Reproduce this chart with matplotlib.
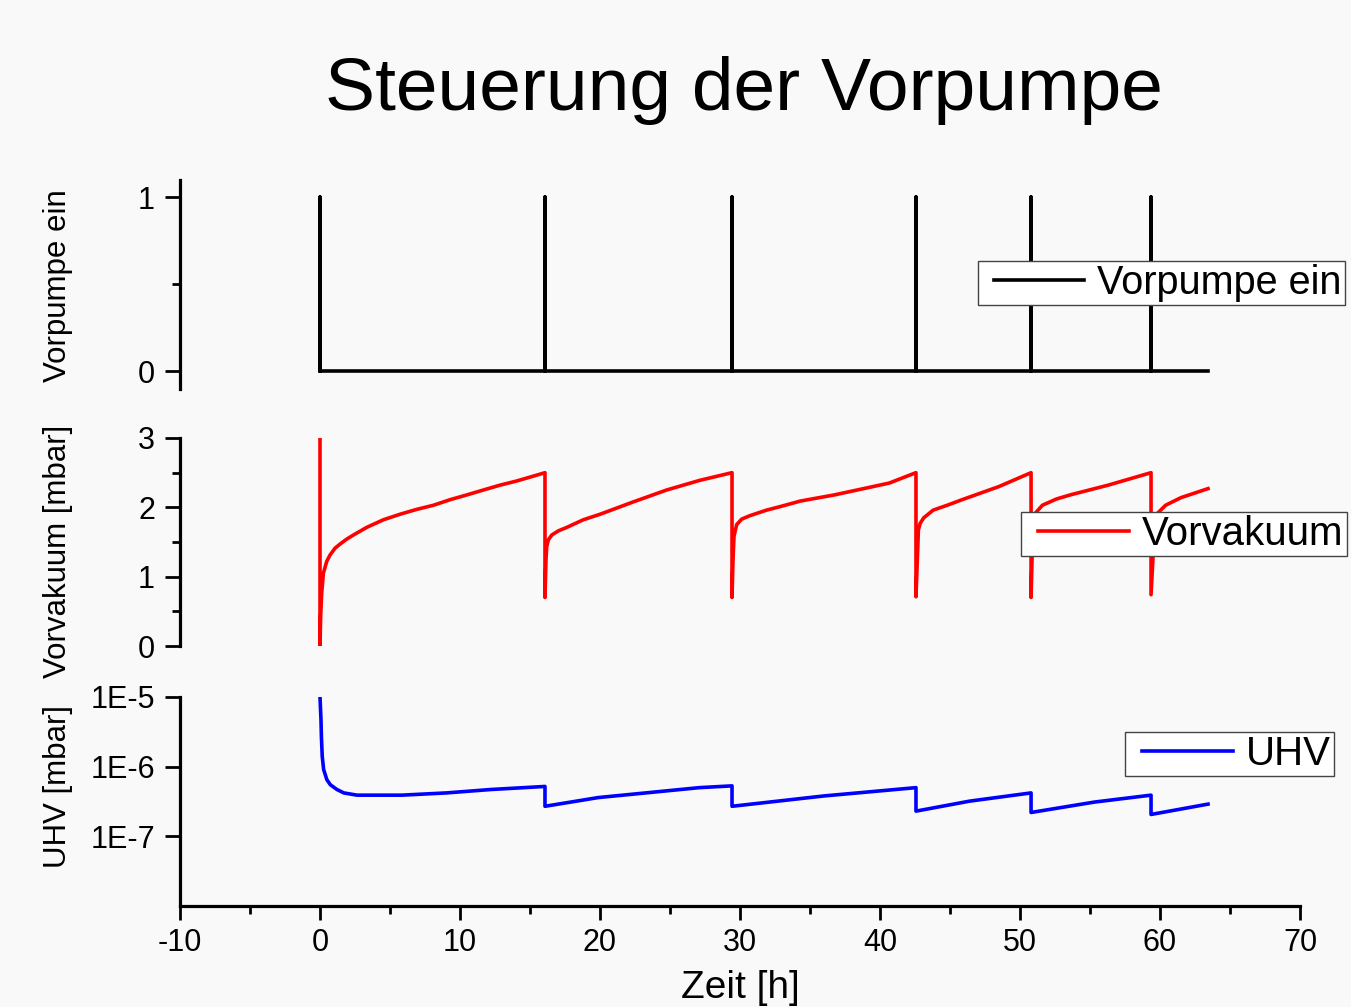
import numpy as np
import matplotlib
matplotlib.use("Agg")
import matplotlib.pyplot as plt
from matplotlib.legend_handler import HandlerLine2D
from matplotlib.lines import Line2D
from matplotlib.ticker import LogLocator, MultipleLocator, FixedLocator, NullFormatter

plt.rcParams['font.family'] = ['Liberation Sans', 'DejaVu Sans']
plt.rcParams['axes.unicode_minus'] = False

# switching times of the fore pump [h]
pump_on = [0.0, 16.07, 29.43, 42.57, 50.79, 59.36]
t_end = 63.43

# fore vacuum pressure [mbar]
vv_t = [0.0, 0.0, 0.05, 0.12, 0.24, 0.48, 0.71, 1.07, 1.43, 1.9, 2.38, 3.33, 4.52, 5.71, 6.9,
        8.1, 9.29, 10.5, 11.67, 12.86, 14.05, 15.24, 16.07,
        16.07, 16.14, 16.19, 16.31, 16.55, 17.02, 17.62, 18.8, 20.0, 22.4, 24.76, 27.14, 29.43,
        29.43, 29.5, 29.57, 29.76, 30.12, 30.71, 31.9, 32.86, 34.3, 36.76, 40.66, 42.57,
        42.57, 42.7, 42.74, 42.87, 43.13, 43.8, 44.8, 45.86, 48.5, 50.79,
        50.79, 50.93, 51.07, 51.6, 52.6, 53.6, 56.3, 59.36,
        59.36, 59.64, 59.8, 60.4, 61.5, 63.43]
vv_p = [3.0, 0.0, 0.45, 0.76, 1.05, 1.22, 1.31, 1.41, 1.47, 1.54, 1.60, 1.71, 1.82, 1.90, 1.97,
        2.03, 2.11, 2.18, 2.25, 2.32, 2.38, 2.45, 2.50,
        0.70, 1.24, 1.43, 1.53, 1.60, 1.66, 1.71, 1.82, 1.90, 2.08, 2.25, 2.39, 2.50,
        0.70, 1.24, 1.58, 1.75, 1.83, 1.88, 1.96, 2.01, 2.09, 2.18, 2.35, 2.50,
        0.71, 1.43, 1.67, 1.77, 1.85, 1.96, 2.03, 2.11, 2.30, 2.50,
        0.70, 1.82, 1.91, 2.03, 2.12, 2.18, 2.32, 2.50,
        0.74, 1.82, 1.91, 2.03, 2.14, 2.27]

# UHV pressure [mbar]
uhv_t = [0.0, 0.07, 0.1, 0.16, 0.26, 0.49, 0.74, 1.21, 1.7, 2.64, 5.84, 9.03, 12.2, 16.07,
         16.07, 19.87, 27.1, 29.43,
         29.43, 36.0, 42.57,
         42.57, 46.4, 50.79,
         50.79, 55.3, 59.36,
         59.36, 63.43]
uhv_p = [1e-5, 4.7e-6, 2.7e-6, 1.4e-6, 9.1e-7, 6.5e-7, 5.5e-7, 4.7e-7, 4.2e-7, 3.9e-7, 3.9e-7,
         4.2e-7, 4.7e-7, 5.2e-7,
         2.7e-7, 3.6e-7, 5.0e-7, 5.3e-7,
         2.7e-7, 3.8e-7, 5.0e-7,
         2.3e-7, 3.2e-7, 4.2e-7,
         2.2e-7, 3.1e-7, 3.9e-7,
         2.06e-7, 2.9e-7]

# build the on/off step line
pt, ps = [], []
for t in pump_on:
    pt += [t, t, t]
    ps += [0, 1, 0]
pt.append(t_end)
ps.append(0)

W, H = 1351, 1007
fig = plt.figure(figsize=(W / 100, H / 100), dpi=100)
fig.patch.set_facecolor('#f9f9f9')

left = 180 / W
width = 1120 / W
ax1 = fig.add_axes([left, 1 - 389 / H, width, 209 / H])
ax2 = fig.add_axes([left, 1 - 646 / H, width, 208 / H])
ax3 = fig.add_axes([left, 1 - 906 / H, width, 209 / H])

lw = 2.6
ax1.plot(pt, ps, color='black', lw=lw, label='Vorpumpe ein')
ax2.plot(vv_t, vv_p, color='#ff0000', lw=lw, label='Vorvakuum')
ax3.plot(uhv_t, uhv_p, color='#0000ff', lw=lw, label='UHV')

for ax in (ax1, ax2, ax3):
    ax.set_facecolor('none')
    ax.set_xlim(-10, 70)
    for s in ('top', 'right'):
        ax.spines[s].set_visible(False)
    ax.spines['left'].set_linewidth(2.3)
    ax.spines['bottom'].set_linewidth(2.3)
    ax.tick_params(axis='y', which='major', direction='out', length=11, width=2, labelsize=22, pad=7)
    ax.tick_params(axis='y', which='minor', direction='out', length=6, width=2)

for ax in (ax1, ax2):
    ax.spines['bottom'].set_visible(False)
    ax.tick_params(axis='x', which='both', bottom=False, labelbottom=False)

ax1.set_ylim(-0.103, 1.098)
ax1.yaxis.set_major_locator(FixedLocator([0, 1]))
ax1.yaxis.set_minor_locator(FixedLocator([0.5]))

ax2.set_ylim(0, 3)
ax2.yaxis.set_major_locator(MultipleLocator(1))
ax2.yaxis.set_minor_locator(MultipleLocator(0.5))

ax3.set_yscale('log')
ax3.set_ylim(1e-8, 1e-5)
ax3.yaxis.set_major_locator(FixedLocator([1e-7, 1e-6, 1e-5]))
ax3.set_yticklabels(['1E-7', '1E-6', '1E-5'])
ax3.yaxis.set_minor_locator(LogLocator(base=10, subs=np.arange(2, 10)))
ax3.yaxis.set_minor_formatter(NullFormatter())
ax3.tick_params(axis='y', which='minor', length=7, width=1.8)

ax3.xaxis.set_major_locator(MultipleLocator(10))
ax3.xaxis.set_minor_locator(MultipleLocator(5))
ax3.tick_params(axis='x', which='major', direction='out', length=10, width=2, labelsize=22, pad=6)
ax3.tick_params(axis='x', which='minor', direction='out', length=6, width=2)

fig.text(58 / W, 1 - 286 / H, 'Vorpumpe ein', rotation=90, ha='center', va='center', fontsize=22.5)
fig.text(58 / W, 1 - 551 / H, 'Vorvakuum [mbar]', rotation=90, ha='center', va='center', fontsize=22.5)
fig.text(58 / W, 1 - 787 / H, 'UHV [mbar]', rotation=90, ha='center', va='center', fontsize=22.5)

fig.text(744 / W, 1 - 110 / H, 'Steuerung der Vorpumpe', ha='center', va='baseline', fontsize=54)
fig.text(740 / W, 1 - 998 / H, 'Zeit [h]', ha='center', va='baseline', fontsize=28)

leg_kw = dict(loc='upper left', bbox_transform=fig.transFigure, borderaxespad=0,
              fancybox=False, framealpha=1, edgecolor='#444444',
              handlelength=2.6, handletextpad=0.33, borderpad=0.08,
              handler_map={Line2D: HandlerLine2D(xpad=0.33)})
for ax, (lx, ly), fs in zip((ax1, ax2, ax3), [(978, 261), (1021, 512), (1125, 732)], [28.5, 29, 29]):
    lg = ax.legend(bbox_to_anchor=(lx / W, 1 - ly / H), fontsize=fs, **leg_kw)
    lg.get_frame().set_linewidth(1.0)
    lg.set_zorder(10)

fig.savefig('out.png', dpi=100, facecolor=fig.get_facecolor())
